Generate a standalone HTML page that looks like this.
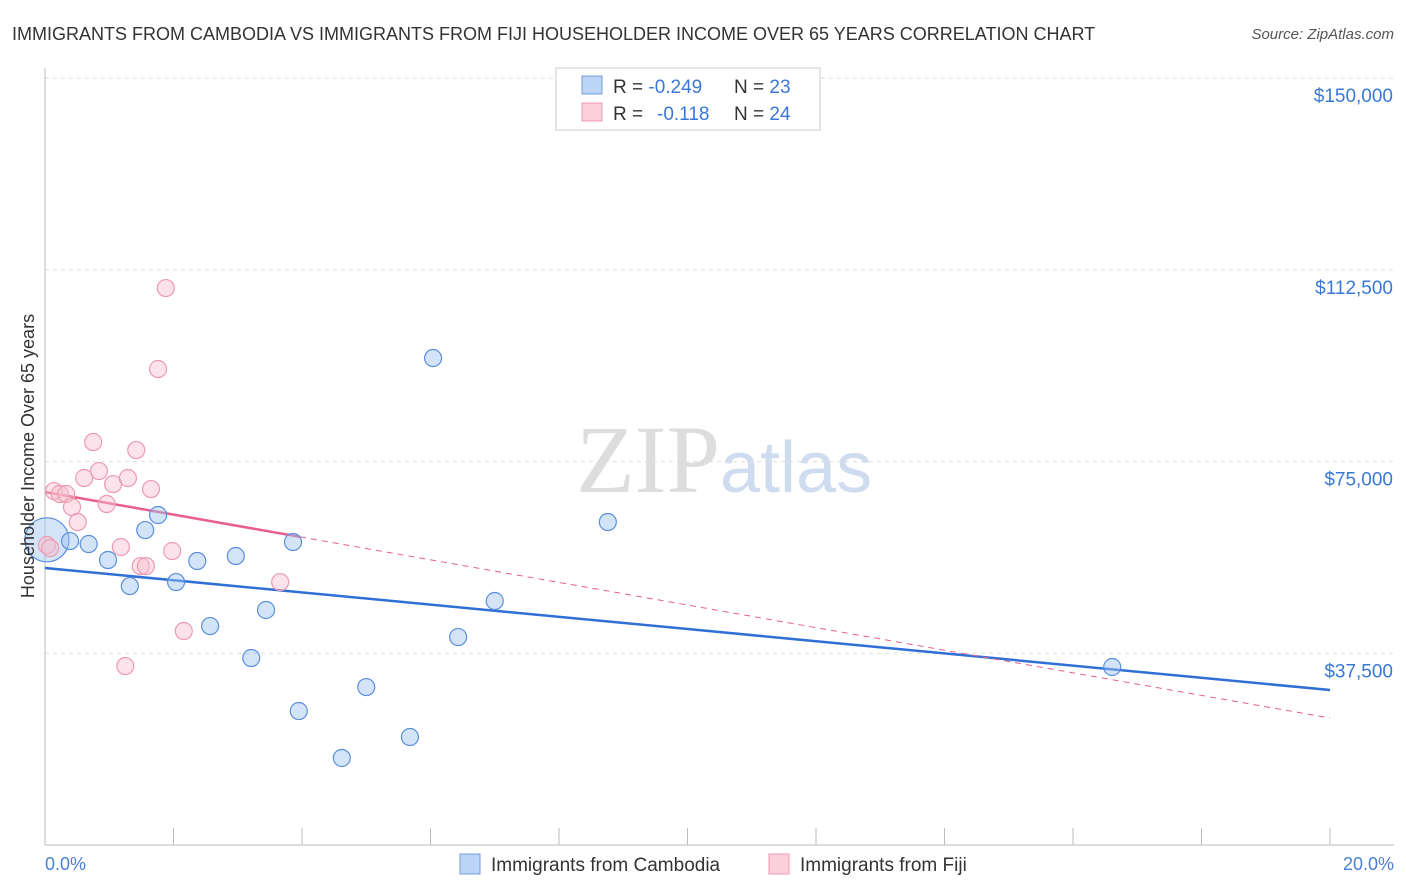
<!DOCTYPE html>
<html><head><meta charset="utf-8"><style>
body{margin:0;background:#fff;font-family:"Liberation Sans",sans-serif;}
svg{display:block}
</style></head><body>
<svg id="chart" width="1406" height="892">
<text x="12" y="40" font-size="18" fill="#333">IMMIGRANTS FROM CAMBODIA VS IMMIGRANTS FROM FIJI HOUSEHOLDER INCOME OVER 65 YEARS CORRELATION CHART</text>
<text x="1394" y="39" font-size="15" fill="#555" font-style="italic" text-anchor="end">Source: ZipAtlas.com</text>
<text x="720" y="492" font-size="96" fill="#ddd" font-family="Liberation Serif" text-anchor="end">ZIP</text>
<text x="720" y="492" font-size="72" fill="#cfdcf0">atlas</text>
<g id="grid"></g>
<g id="axes"></g>
<g id="lines"></g>
<g id="pts"></g>
<text transform="translate(34,456) rotate(-90)" font-size="18" fill="#333" text-anchor="middle">Householder Income Over 65 years</text>
<text x="45" y="870" font-size="18" fill="#4a7fd4">0.0%</text>
<text x="1394" y="870" font-size="18" fill="#4a7fd4" text-anchor="end">20.0%</text>
<g>
<rect x="556" y="68" width="264" height="62" fill="#fff" stroke="#ccc"/>
<rect x="582" y="76" width="20" height="18" fill="#bcd4f5" stroke="#6f9ee0"/>
<rect x="582" y="103" width="20" height="18" fill="#fcd0dc" stroke="#ec9ab2"/>
<text x="613" y="93" font-size="19" fill="#333">R = <tspan fill="#3a78d8">-0.249</tspan><tspan x="734">N = </tspan><tspan fill="#3a78d8">23</tspan></text>
<text x="613" y="120" font-size="19" fill="#333">R = <tspan x="657" fill="#3a78d8">-0.118</tspan><tspan x="734">N = </tspan><tspan fill="#3a78d8">24</tspan></text>
</g>
<g>
<rect x="460" y="854" width="20" height="20" fill="#bcd4f5" stroke="#6f9ee0"/>
<text x="491" y="871" font-size="19" fill="#333">Immigrants from Cambodia</text>
<rect x="769" y="854" width="20" height="20" fill="#fcd0dc" stroke="#ec9ab2"/>
<text x="800" y="871" font-size="19" fill="#333">Immigrants from Fiji</text>
</g>
</svg>
<script>
const yTicks=[37500,75000,112500,150000];
const yTickLabels=["$37,500","$75,000","$112,500","$150,000"];
const cambodiaX=[0.03,0.39,0.68,0.98,1.32,1.56,1.76,2.04,2.37,2.57,2.97,3.21,3.44,3.86,3.95,4.62,5.00,5.68,6.04,6.43,7.00,8.76,16.61];
const cambodiaY=[59700,59460,58880,55750,50660,61610,64550,51440,55550,42830,56530,36580,45970,59270,26210,17020,30900,21120,95260,40680,47730,63180,34820];
const fijiX=[0.03,0.14,0.23,0.33,0.42,0.51,0.61,0.75,0.84,0.96,1.06,1.18,1.25,1.29,1.42,1.49,1.57,1.65,1.76,1.88,1.98,2.16,3.66,0.08];
const fijiY=[58680,69240,68660,68660,66110,63180,71790,78830,73150,66700,70610,58290,35010,71790,77260,54570,54570,69630,93110,108950,57510,41860,51440,58090];
const cambodiaTrend=[54180,30320];
const fijiTrend=[69050,24840];
const fijiSolidEnd=3.97;
const NS="http://www.w3.org/2000/svg";
const X=v=>45+v*64.25;
const Y=v=>845-v*191.7/37500;
function mk(tag,attrs,parent){const e=document.createElementNS(NS,tag);for(const k in attrs)e.setAttribute(k,attrs[k]);document.getElementById(parent).appendChild(e);return e;}
yTicks.forEach((t,i)=>{
 const g=mk('line',{x1:45,x2:1394,y1:Y(t),y2:Y(t),stroke:'#ddd','stroke-dasharray':'4,4'},'grid');
 
 
 const l=mk('text',{x:1393,y:Y(t)+24,'font-size':19,fill:'#3a78d8','text-anchor':'end'},'grid');
 l.textContent=yTickLabels[i];
 
 
});
const ya=mk('line',{x1:45,x2:45,y1:68,y2:845,stroke:'#bbb'},'axes');


const xa=mk('line',{x1:45,x2:1394,y1:845,y2:845,stroke:'#bbb'},'axes');


for(let i=0;i<=10;i++){
 const t=mk('line',{x1:X(i*2),x2:X(i*2),y1:828,y2:845,stroke:'#bbb'},'axes');
 
 
}
function trendY(tr,x){return tr[0]+(tr[1]-tr[0])*x/20;}
const bl=mk('line',{x1:X(0),y1:Y(cambodiaTrend[0]),x2:X(20),y2:Y(cambodiaTrend[1]),stroke:'#2f6fd6','stroke-width':2.5},'lines');


const pl=mk('line',{x1:X(0),y1:Y(fijiTrend[0]),x2:X(fijiSolidEnd),y2:Y(trendY(fijiTrend,fijiSolidEnd)),stroke:'#e8608a','stroke-width':2.5},'lines');


const pd=mk('line',{x1:X(fijiSolidEnd),y1:Y(trendY(fijiTrend,fijiSolidEnd)),x2:X(20),y2:Y(fijiTrend[1]),stroke:'#e8608a','stroke-width':1,'stroke-dasharray':'6,5'},'lines');


cambodiaX.forEach((x,i)=>{
 const c=mk('circle',{cx:X(x),cy:Y(cambodiaY[i]),r:i===0?22:8.5,fill:'rgba(160,195,240,0.45)',stroke:'#5a8fdc','stroke-width':1.2},'pts');
 
 
});
fijiX.forEach((x,i)=>{
 const c=mk('circle',{cx:X(x),cy:Y(fijiY[i]),r:8.5,fill:'rgba(248,190,208,0.45)',stroke:'#ec9ab2','stroke-width':1.2},'pts');
 
 
});
</script>
</body></html>
